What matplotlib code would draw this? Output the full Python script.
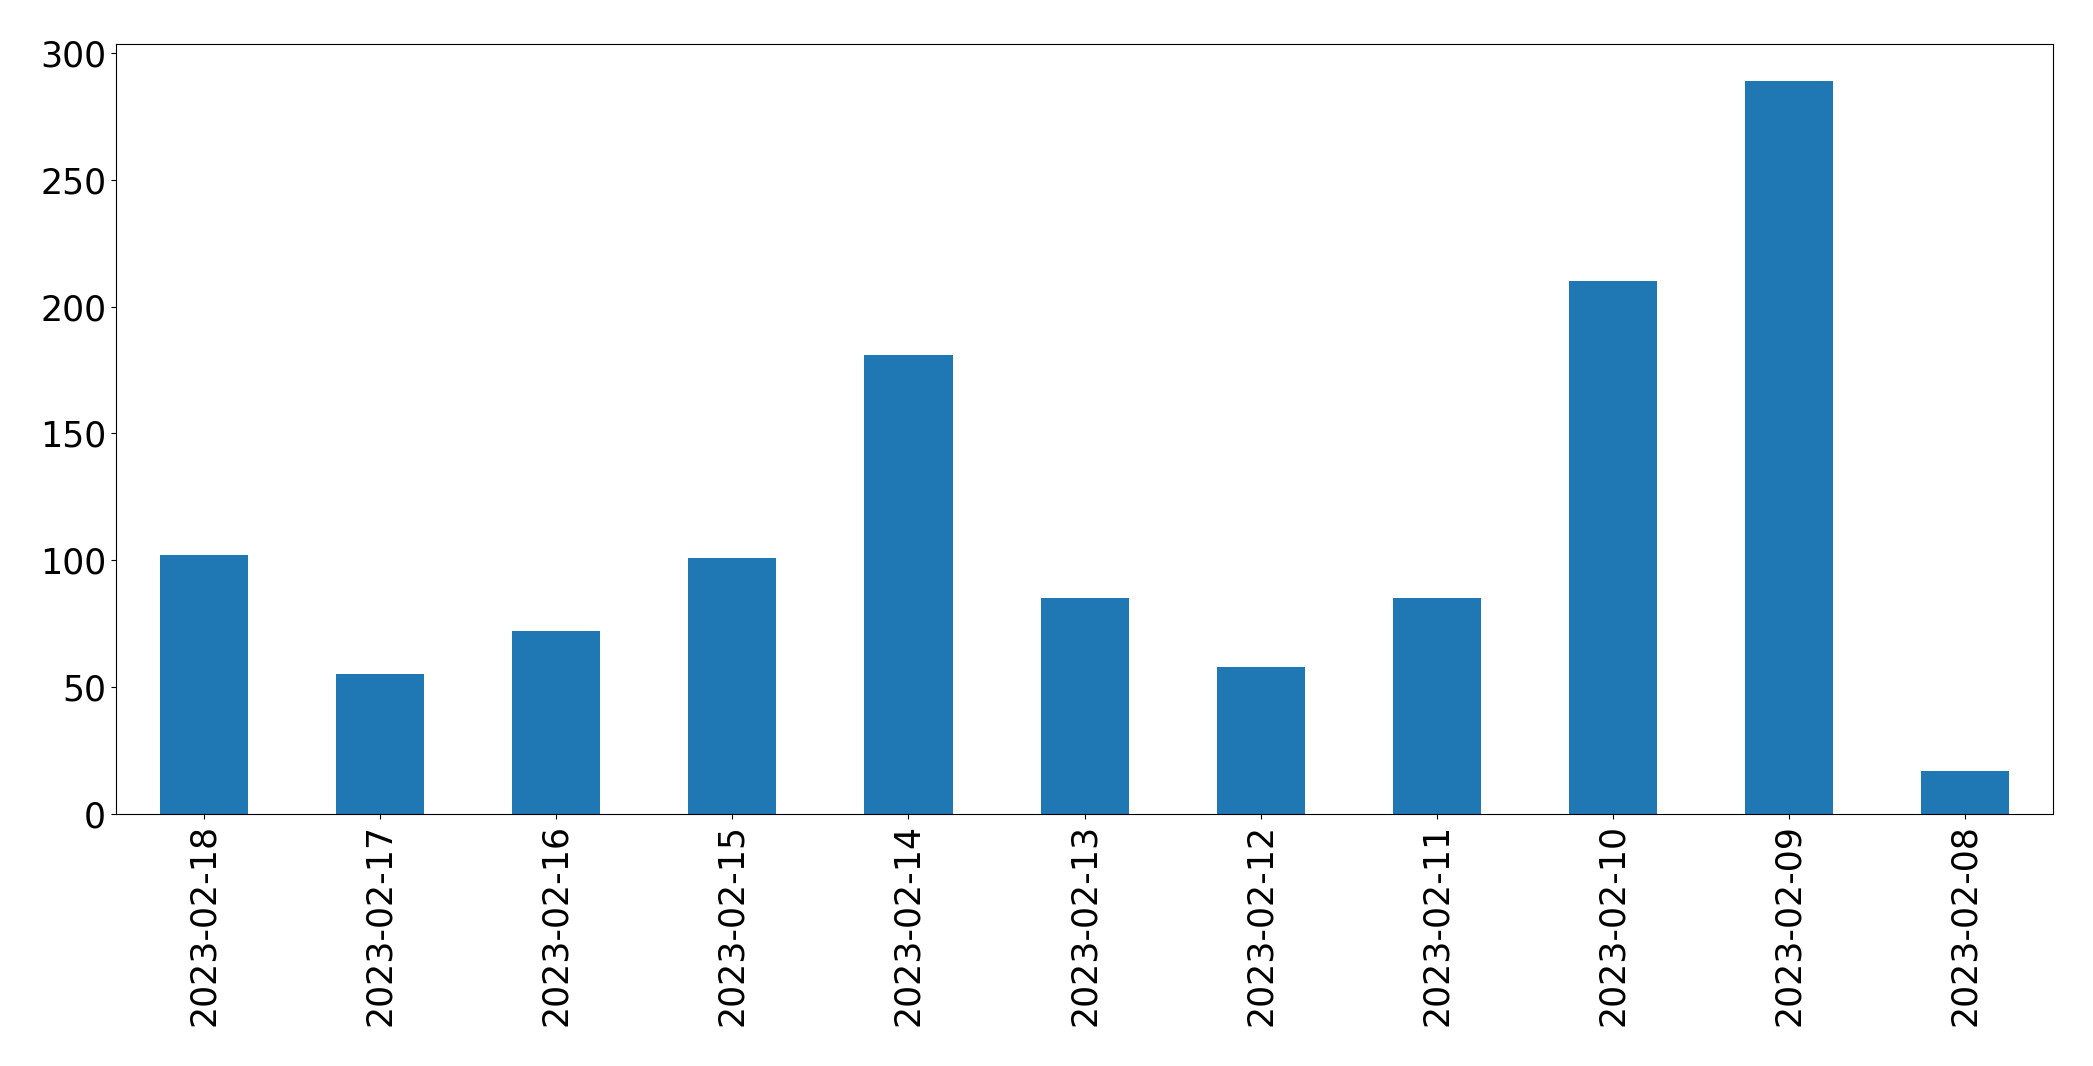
import matplotlib
matplotlib.use("Agg")
import matplotlib.pyplot as plt
import numpy as np

dates = ["2023-02-18", "2023-02-17", "2023-02-16", "2023-02-15", "2023-02-14",
         "2023-02-13", "2023-02-12", "2023-02-11", "2023-02-10", "2023-02-09",
         "2023-02-08"]
counts = [102, 55, 72, 101, 181, 85, 58, 85, 210, 289, 17]

fig = plt.figure(figsize=(20.93, 10.66), dpi=100)
ax = fig.add_axes([0.0554, 0.2364, 0.981 - 0.0554, 0.9587 - 0.2364])
x = np.arange(len(dates))
ax.bar(x, counts, width=0.5, color="#1f77b4")
ax.set_xlim(-0.5, len(dates) - 0.5)
ax.set_ylim(0, max(counts) * 1.05)
ax.set_xticks(x)
ax.set_xticklabels(dates, rotation=90, fontsize=25)
ax.set_yticks([0, 50, 100, 150, 200, 250, 300])
ax.tick_params(axis="y", labelsize=25)
fig.savefig("out.png", dpi=100)
